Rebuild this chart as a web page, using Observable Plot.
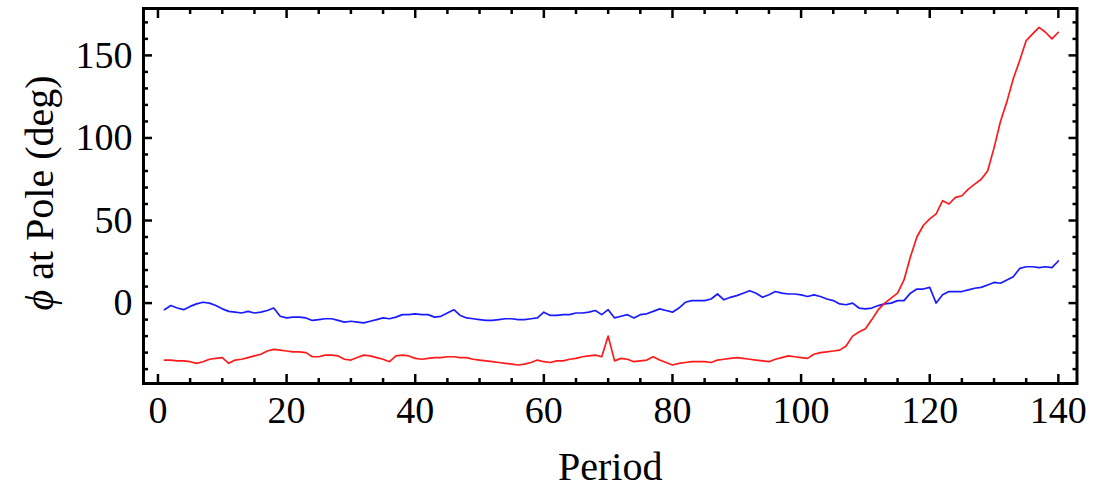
<!DOCTYPE html>
<html>
<head>
<meta charset="utf-8">
<script src="https://cdn.jsdelivr.net/npm/d3@7"></script>
<script src="https://cdn.jsdelivr.net/npm/@observablehq/plot@0.6"></script>
<style>
  html, body { margin: 0; padding: 0; background: #fff; }
  #chart svg { display: block; }
</style>
</head>
<body>
<div id="chart"></div>
<script>
// Periods 1..140
const periods = d3.range(1, 141);

// Blue series (φ at pole, deg)
const blueValues = [
  -4, -1.5, -3, -4, -2, -0.5, 0.5, 0, -1.5, -3.5,
  -5, -5.5, -6, -5, -6, -5.5, -4.5, -3, -8, -9,
  -8.5, -8.5, -9, -10.5, -10, -9.5, -9.5, -10.5, -11.5, -11,
  -11.5, -12, -11, -10, -9, -9.5, -8.5, -7, -7, -6.5,
  -7, -7, -8.5, -8, -6, -4, -7.5, -9, -9.5, -10,
  -10.5, -10.5, -10, -9.5, -9.5, -10, -10, -9.5, -9, -5.5,
  -7.5, -7.5, -7, -7, -6, -6, -5.5, -4.5, -7, -4,
  -9, -8, -7, -9, -7, -6.5, -5, -3.5, -4.5, -5.5,
  -3, 0.5, 1.5, 1.5, 1.5, 2.5, 5.5, 2, 3.5, 4.5,
  6, 7.5, 6, 3.5, 5, 7, 6, 5.5, 5.5, 5,
  4, 5, 4, 2.5, 1.5, -0.5, -1, 0, -3, -3.5,
  -3, -1.5, -0.5, 0, 1.5, 1.5, 6, 8.5, 8.5, 9.5,
  0, 5, 7, 7, 7, 8, 9, 9.5, 11, 12.5,
  12, 14, 16, 21, 22, 22, 21.5, 22, 21.5, 25.5
];

// Red series
const redValues = [
  -34.5, -34.5, -35, -35, -35.5, -36.5, -35.5, -34, -33.5, -33,
  -36.5, -34.5, -34, -33, -32, -31, -29, -28, -28.5, -29,
  -29.5, -29.5, -30, -32.5, -32.5, -31.5, -31.5, -32, -34, -34.5,
  -33, -31.5, -32, -33, -34, -35.5, -32, -31.5, -32, -33.5,
  -34, -33.5, -33, -33, -32.5, -32.5, -33, -33, -34, -34.5,
  -35, -35.5, -36, -36.5, -37, -37.5, -37, -36, -34.5, -35.5,
  -36, -35, -35, -34, -33.5, -32.5, -32, -31.5, -32.5, -20,
  -35, -33.5, -34, -35.5, -35, -34.5, -32.5, -34.5, -36, -37.5,
  -36.5, -36, -35.5, -35.5, -35.5, -36, -34.5, -34, -33.5, -33,
  -33.5, -34, -34.5, -35, -35.5, -34, -33, -32, -32.5, -33,
  -33.5, -31, -30, -29.5, -29, -28.5, -26, -20, -17.5, -15.5,
  -10, -4, 0, 3, 6, 14, 28, 40, 47, 51,
  54, 62, 60, 64, 65, 69, 72, 75, 80, 94,
  110, 122, 136, 147, 159, 163, 167, 164, 160, 164
];

const xMajorTicks = [0, 20, 40, 60, 80, 100, 120, 140];
const xMinorTicks = d3.range(5, 141, 5).filter(d => d % 20 !== 0);
const yMajorTicks = [0, 50, 100, 150];
const yMinorTicks = d3.range(-40, 171, 10).filter(d => d % 50 !== 0);

const xLabel = "Period";
const yLabel = "ϕ at Pole (deg)";

const blueData = periods.map((p, i) => ({period: p, value: blueValues[i]}));
const redData = periods.map((p, i) => ({period: p, value: redValues[i]}));

const tickW = 2.5;
const chart = Plot.plot({
  width: 1094,
  height: 488,
  marginLeft: 143,
  marginRight: 17.5,
  marginTop: 8,
  marginBottom: 105,
  style: {fontFamily: "'Liberation Serif', 'Times New Roman', serif", background: "#fff", color: "#000"},
  x: {domain: [-2.25, 142.9]},
  y: {domain: [-48.7, 178.4]},
  marks: [
    Plot.line(blueData, {x: "period", y: "value", stroke: "#1a1aff", strokeWidth: 1.7}),
    Plot.line(redData, {x: "period", y: "value", stroke: "#ff1a1a", strokeWidth: 1.7}),
    // ticks (inward) on all sides
    Plot.axisX({anchor: "bottom", ticks: xMajorTicks, tickSize: -9, fill: "none", strokeWidth: tickW, label: null}),
    Plot.axisX({anchor: "bottom", ticks: xMinorTicks, tickSize: -5, fill: "none", strokeWidth: tickW, label: null}),
    Plot.axisX({anchor: "top", ticks: xMajorTicks, tickSize: -9, fill: "none", strokeWidth: tickW, label: null}),
    Plot.axisX({anchor: "top", ticks: xMinorTicks, tickSize: -5, fill: "none", strokeWidth: tickW, label: null}),
    Plot.axisY({anchor: "left", ticks: yMajorTicks, tickSize: -9, fill: "none", strokeWidth: tickW, label: null}),
    Plot.axisY({anchor: "left", ticks: yMinorTicks, tickSize: -5, fill: "none", strokeWidth: tickW, label: null}),
    Plot.axisY({anchor: "right", ticks: yMajorTicks, tickSize: -9, fill: "none", strokeWidth: tickW, label: null}),
    Plot.axisY({anchor: "right", ticks: yMinorTicks, tickSize: -5, fill: "none", strokeWidth: tickW, label: null}),
    // tick labels
    Plot.axisX({anchor: "bottom", ticks: xMajorTicks, tickSize: 0, tickPadding: 13, fontSize: 38, label: null, tickFormat: d => String(d)}),
    Plot.axisY({anchor: "left", ticks: yMajorTicks, tickSize: 0, tickPadding: 11, fontSize: 38, label: null, tickFormat: d => String(d)}),
    // axis titles
    Plot.text([xLabel], {frameAnchor: "bottom", text: d => d, textAnchor: "middle", dy: 96, lineAnchor: "bottom", fontSize: 40}),
    Plot.text([yLabel], {frameAnchor: "left", text: d => d, textAnchor: "middle", rotate: -90, dx: -91, dy: -3, lineAnchor: "bottom", fontSize: 40}),
    Plot.frame({stroke: "#000", strokeWidth: 3})
  ]
});

document.getElementById("chart").appendChild(chart);

// italicize the phi symbol in the y label
chart.querySelectorAll("text").forEach(t => {
  if (t.textContent === yLabel) {
    const rest = t.textContent.slice(1);
    t.textContent = "";
    const ns = "http://www.w3.org/2000/svg";
    const a = document.createElementNS(ns, "tspan");
    a.setAttribute("font-style", "italic");
    a.textContent = "ϕ";
    const b = document.createElementNS(ns, "tspan");
    b.textContent = rest;
    t.appendChild(a);
    t.appendChild(b);
  }
});
</script>
</body>
</html>
